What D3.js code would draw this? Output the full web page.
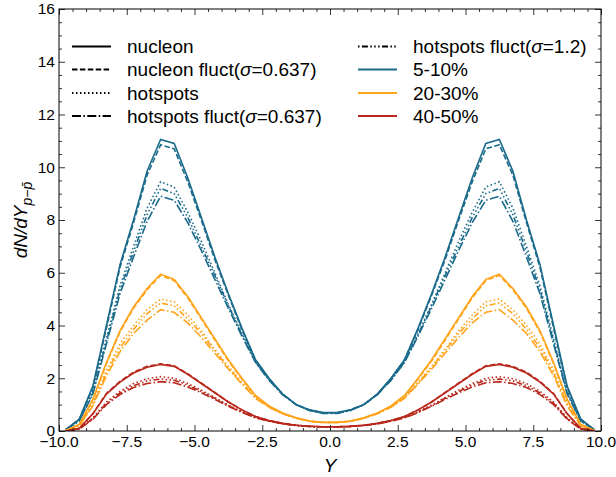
<!DOCTYPE html>
<html>
<head>
<meta charset="utf-8">
<script src="https://cdn.jsdelivr.net/npm/d3@7"></script>
<style>
body { margin: 0; background: #fff; }
text { font-family: "Liberation Sans", Arial, sans-serif; fill: #000; }
</style>
</head>
<body>
<script>
// rapidity bin centres
var rapidity = [-9.75,-9.25,-8.75,-8.25,-7.75,-7.25,-6.75,-6.25,-5.75,-5.25,-4.75,-4.25,-3.75,-3.25,-2.75,-2.25,-1.75,-1.25,-0.75,-0.25,
                 0.25,0.75,1.25,1.75,2.25,2.75,3.25,3.75,4.25,4.75,5.25,5.75,6.25,6.75,7.25,7.75,8.25,8.75,9.25,9.75];

var centralities = ["5-10%", "20-30%", "40-50%"];
var models = ["nucleon", "nucleon fluct", "hotspots", "hotspots fluct", "hotspots fluct"];
var modelSigma = [null, "0.637", null, "0.637", "1.2"];

// 5-10%
var c1_nucleon   = [0.05,0.45,1.7,4.0,6.3,8.0,9.85,11.05,10.9,9.6,8.1,6.6,5.2,3.9,2.7,2.0,1.4,1.0,0.8,0.7, 0.7,0.8,1.0,1.4,2.0,2.7,3.9,5.2,6.6,8.1,9.6,10.9,11.05,9.85,8.0,6.3,4.0,1.7,0.45,0.05];
var c1_nucFluct  = [0.05,0.45,1.65,3.9,6.2,7.9,9.7,10.85,10.7,9.45,8.0,6.5,5.15,3.85,2.7,1.98,1.4,1.0,0.8,0.68, 0.68,0.8,1.0,1.4,1.98,2.7,3.85,5.15,6.5,8.0,9.45,10.7,10.85,9.7,7.9,6.2,3.9,1.65,0.45,0.05];
var c1_hotspots  = [0.05,0.4,1.5,3.5,5.5,7.0,8.45,9.45,9.25,8.3,7.2,6.0,4.8,3.7,2.65,1.95,1.4,1.0,0.78,0.68, 0.68,0.78,1.0,1.4,1.95,2.65,3.7,4.8,6.0,7.2,8.3,9.25,9.45,8.45,7.0,5.5,3.5,1.5,0.4,0.05];
var c1_hsFluct06 = [0.05,0.38,1.4,3.3,5.2,6.6,7.95,8.9,8.75,7.9,6.85,5.75,4.65,3.6,2.6,1.92,1.38,1.0,0.78,0.67, 0.67,0.78,1.0,1.38,1.92,2.6,3.6,4.65,5.75,6.85,7.9,8.75,8.9,7.95,6.6,5.2,3.3,1.4,0.38,0.05];
var c1_hsFluct12 = [0.05,0.39,1.45,3.4,5.35,6.8,8.2,9.2,9.0,8.1,7.0,5.9,4.75,3.65,2.62,1.94,1.39,1.0,0.78,0.68, 0.68,0.78,1.0,1.39,1.94,2.62,3.65,4.75,5.9,7.0,8.1,9.0,9.2,8.2,6.8,5.35,3.4,1.45,0.39,0.05];

// 20-30%
var c2_nucleon   = [0.02,0.25,1.2,2.6,3.8,4.7,5.4,5.95,5.75,5.1,4.3,3.5,2.7,2.0,1.35,0.95,0.68,0.5,0.38,0.33, 0.33,0.38,0.5,0.68,0.95,1.35,2.0,2.7,3.5,4.3,5.1,5.75,5.95,5.4,4.7,3.8,2.6,1.2,0.25,0.02];
var c2_nucFluct  = [0.02,0.25,1.18,2.55,3.75,4.65,5.35,5.9,5.7,5.05,4.25,3.45,2.65,1.97,1.33,0.94,0.67,0.49,0.37,0.32, 0.32,0.37,0.49,0.67,0.94,1.33,1.97,2.65,3.45,4.25,5.05,5.7,5.9,5.35,4.65,3.75,2.55,1.18,0.25,0.02];
var c2_hotspots  = [0.02,0.22,1.05,2.3,3.3,4.0,4.6,5.0,4.9,4.4,3.8,3.1,2.45,1.85,1.28,0.92,0.66,0.49,0.37,0.32, 0.32,0.37,0.49,0.66,0.92,1.28,1.85,2.45,3.1,3.8,4.4,4.9,5.0,4.6,4.0,3.3,2.3,1.05,0.22,0.02];
var c2_hsFluct06 = [0.02,0.2,0.95,2.1,3.0,3.7,4.2,4.6,4.5,4.1,3.55,2.95,2.35,1.78,1.24,0.9,0.65,0.48,0.37,0.32, 0.32,0.37,0.48,0.65,0.9,1.24,1.78,2.35,2.95,3.55,4.1,4.5,4.6,4.2,3.7,3.0,2.1,0.95,0.2,0.02];
var c2_hsFluct12 = [0.02,0.21,1.0,2.2,3.15,3.85,4.45,4.85,4.75,4.25,3.7,3.05,2.4,1.82,1.26,0.91,0.66,0.49,0.37,0.32, 0.32,0.37,0.49,0.66,0.91,1.26,1.82,2.4,3.05,3.7,4.25,4.75,4.85,4.45,3.85,3.15,2.2,1.0,0.21,0.02];

// 40-50%
var c3_nucleon   = [0.0,0.1,0.65,1.4,1.85,2.2,2.42,2.52,2.45,2.15,1.8,1.45,1.1,0.8,0.55,0.4,0.29,0.22,0.18,0.16, 0.16,0.18,0.22,0.29,0.4,0.55,0.8,1.1,1.45,1.8,2.15,2.45,2.52,2.42,2.2,1.85,1.4,0.65,0.1,0.0];
var c3_nucFluct  = [0.0,0.1,0.66,1.42,1.88,2.23,2.45,2.55,2.47,2.17,1.82,1.46,1.1,0.8,0.55,0.4,0.29,0.22,0.18,0.16, 0.16,0.18,0.22,0.29,0.4,0.55,0.8,1.1,1.46,1.82,2.17,2.47,2.55,2.45,2.23,1.88,1.42,0.66,0.1,0.0];
var c3_hotspots  = [0.0,0.08,0.5,1.1,1.5,1.8,1.98,2.06,2.0,1.8,1.55,1.27,0.98,0.73,0.52,0.38,0.28,0.21,0.17,0.15, 0.15,0.17,0.21,0.28,0.38,0.52,0.73,0.98,1.27,1.55,1.8,2.0,2.06,1.98,1.8,1.5,1.1,0.5,0.08,0.0];
var c3_hsFluct06 = [0.0,0.07,0.45,1.0,1.38,1.65,1.8,1.87,1.83,1.67,1.45,1.2,0.94,0.7,0.5,0.37,0.27,0.21,0.17,0.15, 0.15,0.17,0.21,0.27,0.37,0.5,0.7,0.94,1.2,1.45,1.67,1.83,1.87,1.8,1.65,1.38,1.0,0.45,0.07,0.0];
var c3_hsFluct12 = [0.0,0.075,0.47,1.05,1.44,1.72,1.9,1.97,1.92,1.74,1.5,1.24,0.96,0.72,0.51,0.38,0.28,0.21,0.17,0.15, 0.15,0.17,0.21,0.28,0.38,0.51,0.72,0.96,1.24,1.5,1.74,1.92,1.97,1.9,1.72,1.44,1.05,0.47,0.075,0.0];

var xTicks = [-10, -7.5, -5, -2.5, 0, 2.5, 5, 7.5, 10];
var yTicks = [0, 2, 4, 6, 8, 10, 12, 14, 16];

var series = [
    [c1_nucleon, c1_nucFluct, c1_hotspots, c1_hsFluct06, c1_hsFluct12],
    [c2_nucleon, c2_nucFluct, c2_hotspots, c2_hsFluct06, c2_hsFluct12],
    [c3_nucleon, c3_nucFluct, c3_hotspots, c3_hsFluct06, c3_hsFluct12]
];

var colors = ["#1a6a8b", "#ffa41b", "#b8281c"];
var dashes = [null, "5.5,2.4", "1.5,2.5", "9,2.4,1.5,2.4", "1.5,2.4,6,2.4,1.5,2.4,1.5,2.4"];

var W = 616, H = 477;
var margin = {top: 9, right: 15, bottom: 46, left: 59},
    width = W - margin.left - margin.right,
    height = H - margin.top - margin.bottom;

var svg = d3.select("body").append("svg")
    .attr("width", W)
    .attr("height", H);

var g = svg.append("g")
    .attr("transform", "translate(" + margin.left + "," + margin.top + ")");

var x = d3.scaleLinear().domain([-10, 10]).range([0, width]);
var y = d3.scaleLinear().domain([0, 16]).range([height, 0]);

g.append("defs").append("clipPath").attr("id", "clip")
    .append("rect").attr("width", width).attr("height", height);

// curves
var line = d3.line()
    .x(function (d) { return x(d[0]); })
    .y(function (d) { return y(d[1]); });

var curves = g.append("g").attr("clip-path", "url(#clip)");
series.forEach(function (group, ci) {
    group.forEach(function (vals, mi) {
        curves.append("path")
            .datum(rapidity.map(function (r, i) { return [r, vals[i]]; }))
            .attr("d", line)
            .attr("fill", "none")
            .attr("stroke", colors[ci])
            .attr("stroke-width", 1.6)
            .attr("stroke-dasharray", dashes[mi]);
    });
});

// axes with inward ticks on all four sides
function tickAxis(axis, scale, major, minorStep, tr) {
    var minor = d3.range(scale.domain()[0], scale.domain()[1] + 1e-9, minorStep)
        .filter(function (v) { return major.indexOf(v) < 0; });
    var a = g.append("g").attr("transform", tr);
    a.call(axis(scale).tickValues(minor).tickSize(3).tickFormat(""));
    var b = g.append("g").attr("transform", tr);
    b.call(axis(scale).tickValues(major).tickSize(6).tickFormat(""));
    [a, b].forEach(function (s) {
        s.select(".domain").remove();
        s.selectAll("line").attr("stroke", "#000").attr("stroke-width", 0.8);
    });
}
tickAxis(d3.axisTop, x, xTicks, 0.5, "translate(0," + height + ")");
tickAxis(d3.axisBottom, x, xTicks, 0.5, "translate(0,0)");
tickAxis(d3.axisRight, y, yTicks, 0.5, "translate(0,0)");
tickAxis(d3.axisLeft, y, yTicks, 0.5, "translate(" + width + ",0)");

g.append("rect")
    .attr("width", width).attr("height", height)
    .attr("fill", "none").attr("stroke", "#000").attr("stroke-width", 1);

// tick labels
g.selectAll(".xlab").data(xTicks).enter().append("text")
    .attr("x", function (d) { return x(d); })
    .attr("y", height + 16)
    .attr("text-anchor", "middle")
    .style("font-size", "15.5px")
    .text(function (d) { return d3.format(".1f")(d).replace("-", "\u2212"); });

g.selectAll(".ylab").data(yTicks).enter().append("text")
    .attr("x", -4)
    .attr("y", function (d) { return y(d); })
    .attr("dy", "0.35em")
    .attr("text-anchor", "end")
    .style("font-size", "15.5px")
    .text(function (d) { return d; });

// axis titles
svg.append("text")
    .attr("x", margin.left + width / 2)
    .attr("y", 472)
    .attr("text-anchor", "middle")
    .style("font-size", "19px")
    .style("font-style", "italic")
    .text("Y");

var yt = svg.append("text")
    .attr("transform", "translate(27," + (margin.top + height / 2) + ") rotate(-90)")
    .attr("text-anchor", "middle")
    .style("font-size", "19px")
    .style("font-style", "italic");
yt.append("tspan").text("dN/dY");
yt.append("tspan").attr("dy", 5).style("font-size", "14px").text("p\u2212p\u0304");

// legend
var rowY = [46.5, 69.5, 93, 116];
var legItems = [];
models.forEach(function (m, i) { legItems.push({kind: "model", i: i}); });
centralities.forEach(function (c, i) { legItems.push({kind: "cent", i: i}); });

legItems.forEach(function (d, k) {
    var col = k < 4 ? 0 : 1;
    var row = k < 4 ? k : k - 4;
    var x0 = col === 0 ? 72 : 358;
    var yy = rowY[row];
    svg.append("line")
        .attr("x1", x0).attr("x2", x0 + 39)
        .attr("y1", yy).attr("y2", yy)
        .attr("stroke", d.kind === "model" ? "#000" : colors[d.i])
        .attr("stroke-width", 1.8)
        .attr("stroke-dasharray", d.kind === "model" ? dashes[d.i] : null);
    var t = svg.append("text")
        .attr("x", x0 + 55)
        .attr("y", yy)
        .attr("dy", "0.35em")
        .style("font-size", "19px");
    if (d.kind === "cent") {
        t.text(centralities[d.i]);
    } else {
        t.append("tspan").text(models[d.i]);
        if (modelSigma[d.i]) {
            t.append("tspan").text("(");
            t.append("tspan").style("font-style", "italic").text("\u03c3");
            t.append("tspan").text("=" + modelSigma[d.i] + ")");
        }
    }
});
</script>
</body>
</html>
